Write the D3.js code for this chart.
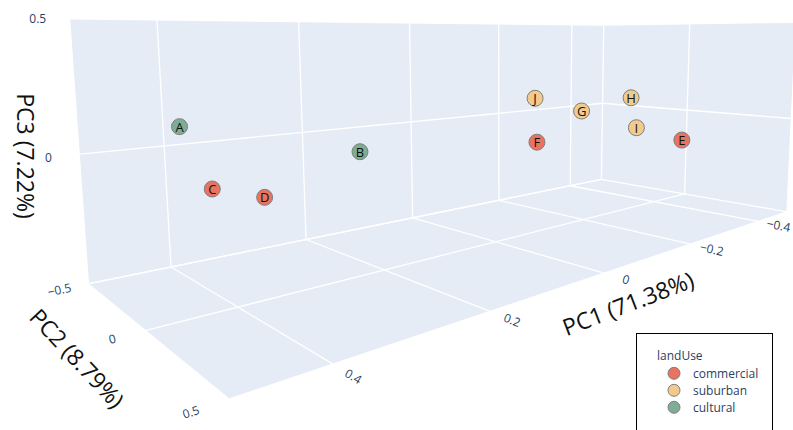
<!DOCTYPE html>
<html><head><meta charset="utf-8">
<script src="https://cdn.jsdelivr.net/npm/d3@7"></script>
<style>body{margin:0;background:#fff}svg{display:block}</style>
</head><body>
<svg id="chart" width="793" height="430"></svg>
<script>
// PCA scores per site
const labels  = ["A","B","C","D","E","F","G","H","I","J"];
const landUse = ["cultural","cultural","commercial","commercial","commercial","commercial","suburban","suburban","suburban","suburban"];
const pc1 = [0.409, 0.180, 0.406, 0.313, -0.264, -0.002, -0.144, -0.214, -0.341, -0.083];
const pc2 = [-0.30, -0.20, -0.10, -0.25, 0.35, 0.20, 0.10, 0.20, 0.00, 0.00];
const pc3 = [0.102, -0.053, -0.098, -0.200, -0.064, -0.015, 0.079, 0.137, -0.063, 0.143];

const pc1Ticks = [-0.4, -0.2, 0, 0.2, 0.4];
const pc2Ticks = [-0.5, 0, 0.5];
const pc3Ticks = [-0.5, 0, 0.5];
const categories = ["commercial", "suburban", "cultural"];
const colors = ["#E9735F", "#F2CA8C", "#7EAD95"];
const axisTitles = ["PC1 (71.38%)", "PC2 (8.79%)", "PC3 (7.22%)"];

// data -> unit cube [-1, 1]^3
const sx = d3.scaleLinear().domain([-0.5, 0.5]).range([-1, 1]);
const sy = d3.scaleLinear().domain([-0.5, 0.5]).range([-1, 1]);
const sz = d3.scaleLinear().domain([-0.5, 0.5]).range([-1, 1]);

// perspective camera (homogeneous 3x4 projection of the unit cube onto the page)
const camera = [
  [-400.3599, 28.67855, -9.290700, 495.4521],
  [-10.17341, -5.076902, -112.9039, 133.3172],
  [-0.3036541, -0.1354490, -0.01829372, 1]
];
function proj(a, b, c) {
  const h = [sx(a), sy(b), sz(c), 1];
  const dot = r => r[0]*h[0] + r[1]*h[1] + r[2]*h[2] + r[3]*h[3];
  const w = dot(camera[2]);
  return [dot(camera[0]) / w, dot(camera[1]) / w, w];
}

const svg = d3.select("#chart");
const path = pts => "M" + pts.map(p => { const q = proj(...p); return q[0] + "," + q[1]; }).join("L");

// back wall, side wall and floor
const planes = [
  [[0.5,-0.5,-0.5],[-0.5,-0.5,-0.5],[-0.5,-0.5,0.5],[0.5,-0.5,0.5]],
  [[-0.5,-0.5,-0.5],[-0.5,0.5,-0.5],[-0.5,0.5,0.5],[-0.5,-0.5,0.5]],
  [[0.5,-0.5,-0.5],[-0.5,-0.5,-0.5],[-0.5,0.5,-0.5],[0.5,0.5,-0.5]]
];
svg.append("g").selectAll("path").data(planes).join("path")
  .attr("d", d => path(d) + "Z").attr("fill", "#E5ECF6");

// grid lines
const grid = [];
pc1Ticks.forEach(t => { grid.push([[t,-0.5,-0.5],[t,-0.5,0.5]]); grid.push([[t,-0.5,-0.5],[t,0.5,-0.5]]); });
pc2Ticks.forEach(t => { grid.push([[-0.5,t,-0.5],[-0.5,t,0.5]]); grid.push([[-0.5,t,-0.5],[0.5,t,-0.5]]); });
pc3Ticks.forEach(t => { grid.push([[-0.5,-0.5,t],[0.5,-0.5,t]]); grid.push([[-0.5,-0.5,t],[-0.5,0.5,t]]); });
svg.append("g").selectAll("path").data(grid).join("path")
  .attr("d", path).attr("stroke", "#fff").attr("stroke-width", 1.3).attr("fill", "none");

// tick labels, laid along the floor / wall they belong to
const fmt = d3.format(".1~f");
const angle = (p, q) => { const a = proj(...p), b = proj(...q); return Math.atan2(b[1]-a[1], b[0]-a[0]) * 180 / Math.PI; };
const placed = [];
const tickG = svg.append("g").attr("font-family", "Open Sans").attr("font-size", 12).attr("fill", "#2a3f5f");
function tickLabel(pos, rot, value) {
  const q = proj(...pos);
  if (placed.some(p => Math.hypot(p[0]-q[0], p[1]-q[1]) < 12)) return;
  placed.push(q);
  tickG.append("text").attr("transform", `translate(${q[0]},${q[1]}) rotate(${rot})`)
    .attr("text-anchor", "middle").attr("dominant-baseline", "central").text(fmt(value));
}
pc1Ticks.forEach(t => tickLabel([t, 0.585, -0.5], angle([t,0.5,-0.5], [t,0.6,-0.5]), t));
pc2Ticks.forEach(t => tickLabel([0.533, t, -0.5], angle([0.5,t,-0.5], [0.4,t,-0.5]), t));
pc3Ticks.forEach(t => tickLabel([0.534, -0.5, t], 0, t));

// axis titles
const titlePos = [[628, 303, -21], [77.5, 358, 47], [26, 156, 90]];
svg.append("g").selectAll("text").data(axisTitles).join("text")
  .attr("transform", (d, i) => `translate(${titlePos[i][0]},${titlePos[i][1]}) rotate(${titlePos[i][2]})`)
  .attr("text-anchor", "middle").attr("dominant-baseline", "central")
  .attr("font-family", "Open Sans").attr("font-size", 23).attr("fill", "#111").text(d => d);

// markers, far ones first
const color = d3.scaleOrdinal().domain(categories).range(colors);
const pts = labels.map((l, i) => {
  const q = proj(pc1[i], pc2[i], pc3[i]);
  return { l, c: landUse[i], x: q[0], y: q[1], w: Math.abs(q[2]) };
}).sort((a, b) => b.w - a.w);
const mk = svg.append("g").selectAll("g").data(pts).join("g")
  .attr("transform", d => `translate(${d.x},${d.y})`);
mk.append("circle").attr("r", 8).attr("fill", d => color(d.c)).attr("stroke", "#7f7f7f").attr("stroke-width", 1);
mk.append("text").attr("text-anchor", "middle").attr("dominant-baseline", "central")
  .attr("font-family", "Open Sans").attr("font-size", 13).attr("fill", "#111").text(d => d.l);

// legend
const lg = svg.append("g").attr("font-family", "Open Sans").attr("font-size", 12).attr("fill", "#2a3f5f");
lg.append("rect").attr("x", 636.5).attr("y", 333.5).attr("width", 136).attr("height", 120)
  .attr("fill", "#fff").attr("stroke", "#000");
lg.append("text").attr("x", 657).attr("y", 360).text("landUse");
const items = lg.selectAll("g").data(categories).join("g")
  .attr("transform", (d, i) => `translate(674,${373.3 + i * 17})`);
items.append("circle").attr("r", 6).attr("fill", d => color(d)).attr("stroke", "#7f7f7f");
items.append("text").attr("x", 19).attr("dominant-baseline", "central").text(d => d);
</script></body></html>
